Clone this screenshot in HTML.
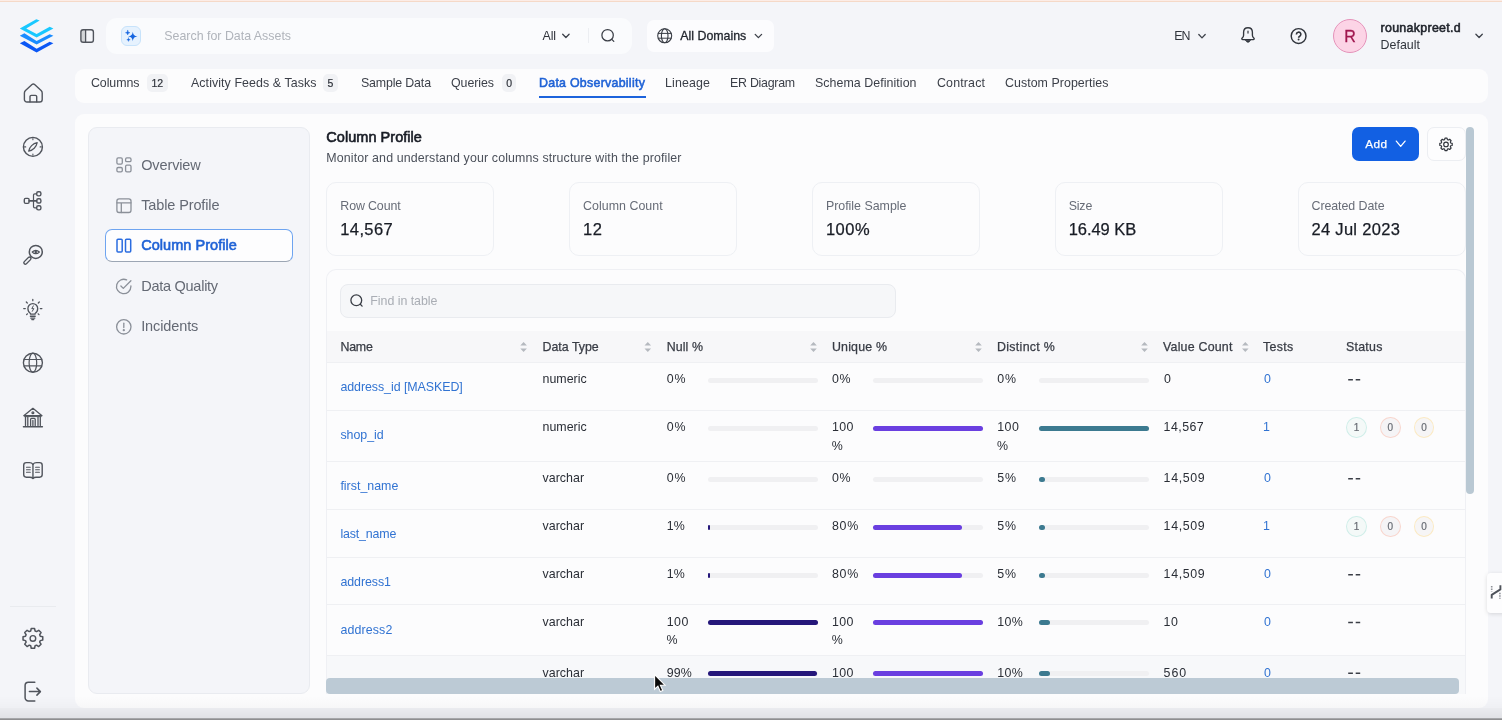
<!DOCTYPE html>
<html lang="en">
<head>
<meta charset="utf-8">
<title>Column Profile</title>
<style>
*{box-sizing:border-box;margin:0;padding:0}
html,body{width:1502px;height:720px;overflow:hidden}
body{background:#f4f5f9;font-family:"Liberation Sans",sans-serif;color:#292d36;position:relative;font-size:13px}
.abs{position:absolute}
.t{position:absolute;white-space:nowrap}
svg{position:absolute;overflow:visible}
#topline{left:0;top:0;width:1502px;height:2px;background:linear-gradient(#fcece6 0,#fcece6 50%,#f5d9c8 50%,#f5d9c8 100%)}
#search{left:106px;top:17.500px;width:525.500px;height:36px;background:#fafbfd;border-radius:11px}
#aibtn{left:121.300px;top:26px;width:19.700px;height:20px;border-radius:6px;background:#e6f2fe;border:1px solid #c7e3fb}
#sdiv{left:588px;top:28px;width:1px;height:15px;background:#eceef2}
#domains{left:647px;top:20px;width:127px;height:32px;background:#fcfcfe;border-radius:7px}
#avatar{left:1332.800px;top:18.600px;width:34.200px;height:34.200px;border-radius:50%;background:#fcd4e6;border:1px solid #e492b9}
#tabs{left:75px;top:69px;width:1413px;height:33.500px;background:#fcfcfd;border-radius:9px}
#tabul{left:539px;top:95.500px;width:106.500px;height:2px;background:#1c63dc}
.badge{position:absolute;top:74px;height:18px;border-radius:5px;background:#f1f2f5;color:#30343c;font-size:10.5px;line-height:18px;text-align:center;-webkit-text-stroke:.2px #30343c}
#main{left:75px;top:113.500px;width:1413px;height:594px;background:#fcfcfd;border-radius:9px}
#side{left:87.500px;top:127px;width:222.500px;height:567px;background:#f4f5f9;border:1px solid #e9ebf0;border-radius:9px}
#sel{left:105px;top:228.500px;width:187.500px;height:33px;background:#fdfdfe;border:1px solid #6ea4f0;border-bottom-color:#9ca6b4;border-radius:7px}
#navdiv{left:10px;top:606px;width:46px;height:1px;background:#e9ebef}
#addbtn{left:1352px;top:127px;width:67.200px;height:34px;background:#1260e3;border-radius:7px}
#setbtn{left:1426.500px;top:127px;width:39px;height:34px;background:#fdfdfe;border:1px solid #eceef2;border-radius:7px}
.card{position:absolute;top:182px;width:168px;height:73.500px;border:1px solid #eef0f4;border-radius:10px;background:#fcfcfd}
#tbl{left:326px;top:269px;width:1140px;height:430px;border:1px solid #eff0f4;border-bottom:none;border-radius:10px 10px 0 0}
#find{left:340px;top:283.500px;width:556px;height:34px;background:#f6f7f9;border:1px solid #e9ebef;border-radius:8px}
#thead{left:327px;top:331px;width:1138px;height:32px;background:#f7f7f9}
.row{position:absolute;left:327px;width:1138px;border-top:1px solid #eff0f3}
.bar{position:absolute;height:5px;border-radius:3px;background:#f0f0f2;width:110px}
.bar i{position:absolute;left:0;top:0;height:5px;border-radius:3px;display:block}
.n i{background:#25177a}.u i{background:#6a3fe0}.d i{background:#3c7a90}
.dash{position:absolute;width:4.8px;height:1.5px;background:#3a3e46}
.st{position:absolute;width:20.600px;height:21px;border-radius:50%;font-size:10px;line-height:20.300px;text-align:center;color:#686c74;-webkit-text-stroke:.2px #686c74}
.sg{border:1px solid #d0eee9;background:#f4f9f8}
.sr{border:1px solid #f8d6ce;background:#f5f4f6}
.sy{border:1px solid #fbeac4;background:#f6f5f6}
#vsb{left:1466px;top:127px;width:8px;height:367px;background:#b9c8d3;border-radius:5px}
#hsb{left:326px;top:678px;width:1133px;height:16px;background:#bccad5;border-radius:4px}
#mask{left:326px;top:694px;width:1142px;height:13px;background:#fcfcfd}
#rtab{left:1487px;top:572.5px;width:20px;height:40px;background:#fdfdfe;border-radius:4px;box-shadow:0 1px 4px rgba(0,0,0,.13)}
#botgrad{left:0;top:696px;width:1502px;height:24px;background:linear-gradient(to bottom,rgba(0,0,0,0) 0,rgba(0,0,0,.018) 11.5px,rgba(0,0,0,.035) 12px,rgba(0,0,0,.075) 22px,rgba(0,0,0,.42) 22.7px,rgba(0,0,0,.42) 24px)}
</style>
</head>
<body>
<div id="all" style="position:absolute;left:0;top:0;width:1502px;height:720px;will-change:transform">
<div class="abs" id="topline"></div>
<div class="abs" id="search"></div>
<div class="abs" id="aibtn"></div>
<div class="abs" id="sdiv"></div>
<div class="abs" id="domains"></div>
<div class="abs" id="avatar"></div>
<div class="abs" id="tabs"></div>
<div class="abs" id="tabul"></div>
<div class="badge" style="left:146.500px;width:21.500px">12</div>
<div class="badge" style="left:323px;width:15px">5</div>
<div class="badge" style="left:502.200px;width:14px">0</div>
<div class="abs" id="main"></div>
<div class="abs" id="side"></div>
<div class="abs" id="sel"></div>
<div class="abs" id="navdiv"></div>
<div class="abs" id="addbtn"></div>
<div class="abs" id="setbtn"></div>
<div class="card" style="left:326.3px"></div>
<div class="card" style="left:569.1px"></div>
<div class="card" style="left:811.9px"></div>
<div class="card" style="left:1054.7px"></div>
<div class="card" style="left:1297.5px"></div>
<div class="abs" id="tbl"></div>
<div class="abs" id="find"></div>
<div class="abs" id="thead"></div>
<div class="row" style="top:362px;height:48px"></div>
<div class="row" style="top:410px;height:51px"></div>
<div class="row" style="top:461px;height:48px"></div>
<div class="row" style="top:509px;height:48px"></div>
<div class="row" style="top:557px;height:47px"></div>
<div class="row" style="top:604px;height:51.4px"></div>
<div class="row" style="top:655.4px;height:50px;background:#f7f8fa"></div>
<div class="bar n" style="left:708px;top:377.5px"></div>
<div class="bar u" style="left:873px;top:377.5px"></div>
<div class="bar d" style="left:1039px;top:377.5px"></div>
<div class="bar n" style="left:708px;top:425.5px"></div>
<div class="bar u" style="left:873px;top:425.5px"><i style="width:110px"></i></div>
<div class="bar d" style="left:1039px;top:425.5px"><i style="width:110px"></i></div>
<div class="st sg" style="left:1346.2px;top:417.2px">1</div>
<div class="st sr" style="left:1380px;top:417.2px">0</div>
<div class="st sy" style="left:1413.8px;top:417.2px">0</div>
<div class="bar n" style="left:708px;top:476.5px"></div>
<div class="bar u" style="left:873px;top:476.5px"></div>
<div class="bar d" style="left:1039px;top:476.5px"><i style="width:6px"></i></div>
<div class="bar n" style="left:708px;top:524.5px"><i style="width:1.6px"></i></div>
<div class="bar u" style="left:873px;top:524.5px"><i style="width:89px"></i></div>
<div class="bar d" style="left:1039px;top:524.5px"><i style="width:6px"></i></div>
<div class="st sg" style="left:1346.2px;top:516.2px">1</div>
<div class="st sr" style="left:1380px;top:516.2px">0</div>
<div class="st sy" style="left:1413.8px;top:516.2px">0</div>
<div class="bar n" style="left:708px;top:572.5px"><i style="width:1.6px"></i></div>
<div class="bar u" style="left:873px;top:572.5px"><i style="width:89px"></i></div>
<div class="bar d" style="left:1039px;top:572.5px"><i style="width:6px"></i></div>
<div class="bar n" style="left:708px;top:620.1px"><i style="width:110px"></i></div>
<div class="bar u" style="left:873px;top:620.1px"><i style="width:110px"></i></div>
<div class="bar d" style="left:1039px;top:620.1px"><i style="width:11px"></i></div>
<div class="bar n" style="left:708px;top:670.9px"><i style="width:109px"></i></div>
<div class="bar u" style="left:873px;top:670.9px"><i style="width:110px"></i></div>
<div class="bar d" style="left:1039px;top:670.9px"><i style="width:11px"></i></div>
<div class="t" style="left:164.3px;top:27.70px;font-size:12.4px;line-height:16px;color:#b0b4bb;">Search for Data Assets</div>
<div class="t" style="left:542.5px;top:27.70px;font-size:12.4px;line-height:16px;color:#30343c;letter-spacing:-0.11px;">All</div>
<div class="t" style="left:680.3px;top:27.70px;font-size:12.4px;line-height:16px;color:#23272f;letter-spacing:-0.01px;-webkit-text-stroke:.3px currentColor;">All Domains</div>
<div class="t" style="left:1174.3px;top:27.90px;font-size:12.4px;line-height:16px;color:#30343c;letter-spacing:-1.01px;">EN</div>
<div class="t" style="left:1344.2px;top:26.66px;font-size:16px;line-height:20px;color:#a0174f;-webkit-text-stroke:.3px currentColor;">R</div>
<div class="t" style="left:1380.5px;top:19.80px;font-size:12.4px;line-height:16px;color:#1d2129;letter-spacing:0.31px;-webkit-text-stroke:.55px currentColor;">rounakpreet.d</div>
<div class="t" style="left:1380.5px;top:36.60px;font-size:12.4px;line-height:16px;color:#30343c;letter-spacing:0.04px;">Default</div>
<div class="t" style="left:91.0px;top:75.30px;font-size:12.4px;line-height:16px;color:#3b3f48;letter-spacing:-0.08px;">Columns</div>
<div class="t" style="left:191.0px;top:75.30px;font-size:12.4px;line-height:16px;color:#3b3f48;letter-spacing:0.08px;">Activity Feeds &amp; Tasks</div>
<div class="t" style="left:361.0px;top:75.30px;font-size:12.4px;line-height:16px;color:#3b3f48;letter-spacing:-0.16px;">Sample Data</div>
<div class="t" style="left:451.0px;top:75.30px;font-size:12.4px;line-height:16px;color:#3b3f48;letter-spacing:-0.06px;">Queries</div>
<div class="t" style="left:665.0px;top:75.30px;font-size:12.4px;line-height:16px;color:#3b3f48;letter-spacing:0.14px;">Lineage</div>
<div class="t" style="left:730.0px;top:75.30px;font-size:12.4px;line-height:16px;color:#3b3f48;letter-spacing:-0.26px;">ER Diagram</div>
<div class="t" style="left:815.0px;top:75.30px;font-size:12.4px;line-height:16px;color:#3b3f48;letter-spacing:0.06px;">Schema Definition</div>
<div class="t" style="left:937.0px;top:75.30px;font-size:12.4px;line-height:16px;color:#3b3f48;letter-spacing:0.16px;">Contract</div>
<div class="t" style="left:1005.0px;top:75.30px;font-size:12.4px;line-height:16px;color:#3b3f48;letter-spacing:0.05px;">Custom Properties</div>
<div class="t" style="left:539.0px;top:75.30px;font-size:12.4px;line-height:16px;color:#1f62d6;letter-spacing:0.27px;-webkit-text-stroke:.55px currentColor;">Data Observability</div>
<div class="t" style="left:141.2px;top:155.78px;font-size:14.5px;line-height:18px;color:#646974;letter-spacing:-0.12px;">Overview</div>
<div class="t" style="left:141.2px;top:196.08px;font-size:14.5px;line-height:18px;color:#646974;letter-spacing:-0.12px;">Table Profile</div>
<div class="t" style="left:141.2px;top:276.78px;font-size:14.5px;line-height:18px;color:#646974;letter-spacing:-0.26px;">Data Quality</div>
<div class="t" style="left:141.2px;top:317.38px;font-size:14.5px;line-height:18px;color:#646974;letter-spacing:-0.11px;">Incidents</div>
<div class="t" style="left:141.2px;top:236.28px;font-size:14.5px;line-height:18px;color:#1f62d6;letter-spacing:0.04px;-webkit-text-stroke:.6px currentColor;">Column Profile</div>
<div class="t" style="left:326.3px;top:128.28px;font-size:14.5px;line-height:18px;color:#171b24;letter-spacing:0.04px;-webkit-text-stroke:.6px currentColor;">Column Profile</div>
<div class="t" style="left:326.3px;top:150.20px;font-size:12.4px;line-height:16px;color:#4b505a;letter-spacing:0.13px;">Monitor and understand your columns structure with the profiler</div>
<div class="t" style="left:1365.3px;top:136.31px;font-size:11.8px;line-height:16px;color:#ffffff;letter-spacing:0.40px;-webkit-text-stroke:.25px currentColor;">Add</div>
<div class="t" style="left:340.3px;top:197.80px;font-size:12.4px;line-height:16px;color:#676c77;letter-spacing:-0.12px;">Row Count</div>
<div class="t" style="left:340.3px;top:219.38px;font-size:16.5px;line-height:20px;color:#181c25;letter-spacing:0.37px;-webkit-text-stroke:.25px currentColor;">14,567</div>
<div class="t" style="left:583.1px;top:197.80px;font-size:12.4px;line-height:16px;color:#676c77;letter-spacing:0.03px;">Column Count</div>
<div class="t" style="left:583.1px;top:219.38px;font-size:16.5px;line-height:20px;color:#181c25;letter-spacing:0.43px;-webkit-text-stroke:.25px currentColor;">12</div>
<div class="t" style="left:825.9px;top:197.80px;font-size:12.4px;line-height:16px;color:#676c77;">Profile Sample</div>
<div class="t" style="left:825.9px;top:219.38px;font-size:16.5px;line-height:20px;color:#181c25;letter-spacing:0.51px;-webkit-text-stroke:.25px currentColor;">100%</div>
<div class="t" style="left:1068.7px;top:197.80px;font-size:12.4px;line-height:16px;color:#676c77;letter-spacing:-0.17px;">Size</div>
<div class="t" style="left:1068.7px;top:219.38px;font-size:16.5px;line-height:20px;color:#181c25;letter-spacing:-0.05px;-webkit-text-stroke:.25px currentColor;">16.49 KB</div>
<div class="t" style="left:1311.5px;top:197.80px;font-size:12.4px;line-height:16px;color:#676c77;letter-spacing:-0.06px;">Created Date</div>
<div class="t" style="left:1311.5px;top:219.38px;font-size:16.5px;line-height:20px;color:#181c25;letter-spacing:0.30px;-webkit-text-stroke:.25px currentColor;">24 Jul 2023</div>
<div class="t" style="left:370.3px;top:293.20px;font-size:12.4px;line-height:16px;color:#a9adb4;letter-spacing:-0.03px;">Find in table</div>
<div class="t" style="left:340.4px;top:339.00px;font-size:12.4px;line-height:16px;color:#383c45;letter-spacing:-0.19px;-webkit-text-stroke:.25px currentColor;">Name</div>
<div class="t" style="left:542.5px;top:339.00px;font-size:12.4px;line-height:16px;color:#383c45;-webkit-text-stroke:.25px currentColor;">Data Type</div>
<div class="t" style="left:666.8px;top:339.00px;font-size:12.4px;line-height:16px;color:#383c45;letter-spacing:0.07px;-webkit-text-stroke:.25px currentColor;">Null %</div>
<div class="t" style="left:832.0px;top:339.00px;font-size:12.4px;line-height:16px;color:#383c45;letter-spacing:0.17px;-webkit-text-stroke:.25px currentColor;">Unique %</div>
<div class="t" style="left:997.0px;top:339.00px;font-size:12.4px;line-height:16px;color:#383c45;letter-spacing:0.31px;-webkit-text-stroke:.25px currentColor;">Distinct %</div>
<div class="t" style="left:1163.0px;top:339.00px;font-size:12.4px;line-height:16px;color:#383c45;letter-spacing:0.21px;-webkit-text-stroke:.25px currentColor;">Value Count</div>
<div class="t" style="left:1263.0px;top:339.00px;font-size:12.4px;line-height:16px;color:#383c45;letter-spacing:0.35px;-webkit-text-stroke:.25px currentColor;">Tests</div>
<div class="t" style="left:1346.0px;top:339.00px;font-size:12.4px;line-height:16px;color:#383c45;letter-spacing:0.25px;-webkit-text-stroke:.25px currentColor;">Status</div>
<div class="t" style="left:340.4px;top:378.90px;font-size:12.4px;line-height:16px;color:#3173d2;letter-spacing:-0.05px;">address_id [MASKED]</div>
<div class="t" style="left:542.5px;top:371.10px;font-size:12.4px;line-height:16px;color:#2a2e36;letter-spacing:0.03px;">numeric</div>
<div class="t" style="left:666.8px;top:371.10px;font-size:12.4px;line-height:16px;color:#2a2e36;letter-spacing:0.72px;">0%</div>
<div class="t" style="left:832.0px;top:371.10px;font-size:12.4px;line-height:16px;color:#2a2e36;letter-spacing:0.72px;">0%</div>
<div class="t" style="left:997.3px;top:371.10px;font-size:12.4px;line-height:16px;color:#2a2e36;letter-spacing:0.72px;">0%</div>
<div class="t" style="left:1163.9px;top:371.10px;font-size:12.4px;line-height:16px;color:#2a2e36;">0</div>
<div class="t" style="left:1263.9px;top:371.10px;font-size:12.4px;line-height:16px;color:#3173d2;">0</div>
<div class="t" style="left:340.4px;top:426.90px;font-size:12.4px;line-height:16px;color:#3173d2;letter-spacing:-0.03px;">shop_id</div>
<div class="t" style="left:542.5px;top:419.10px;font-size:12.4px;line-height:16px;color:#2a2e36;letter-spacing:0.03px;">numeric</div>
<div class="t" style="left:666.8px;top:419.10px;font-size:12.4px;line-height:16px;color:#2a2e36;letter-spacing:0.72px;">0%</div>
<div class="t" style="left:832.0px;top:419.10px;font-size:12.4px;line-height:16px;color:#2a2e36;letter-spacing:0.41px;">100</div>
<div class="t" style="left:831.7px;top:437.80px;font-size:12.4px;line-height:16px;color:#2a2e36;">%</div>
<div class="t" style="left:997.3px;top:419.10px;font-size:12.4px;line-height:16px;color:#2a2e36;letter-spacing:0.41px;">100</div>
<div class="t" style="left:997.0px;top:437.80px;font-size:12.4px;line-height:16px;color:#2a2e36;">%</div>
<div class="t" style="left:1163.6px;top:419.10px;font-size:12.4px;line-height:16px;color:#2a2e36;letter-spacing:0.44px;">14,567</div>
<div class="t" style="left:1263.0px;top:419.10px;font-size:12.4px;line-height:16px;color:#3173d2;">1</div>
<div class="t" style="left:340.4px;top:477.90px;font-size:12.4px;line-height:16px;color:#3173d2;letter-spacing:0.01px;">first_name</div>
<div class="t" style="left:542.5px;top:470.10px;font-size:12.4px;line-height:16px;color:#2a2e36;letter-spacing:0.04px;">varchar</div>
<div class="t" style="left:666.8px;top:470.10px;font-size:12.4px;line-height:16px;color:#2a2e36;letter-spacing:0.72px;">0%</div>
<div class="t" style="left:832.0px;top:470.10px;font-size:12.4px;line-height:16px;color:#2a2e36;letter-spacing:0.72px;">0%</div>
<div class="t" style="left:997.3px;top:470.10px;font-size:12.4px;line-height:16px;color:#2a2e36;letter-spacing:0.72px;">5%</div>
<div class="t" style="left:1163.6px;top:470.10px;font-size:12.4px;line-height:16px;color:#2a2e36;letter-spacing:0.65px;">14,509</div>
<div class="t" style="left:1263.9px;top:470.10px;font-size:12.4px;line-height:16px;color:#3173d2;">0</div>
<div class="t" style="left:340.4px;top:525.90px;font-size:12.4px;line-height:16px;color:#3173d2;letter-spacing:-0.14px;">last_name</div>
<div class="t" style="left:542.5px;top:518.10px;font-size:12.4px;line-height:16px;color:#2a2e36;letter-spacing:0.04px;">varchar</div>
<div class="t" style="left:666.8px;top:518.10px;font-size:12.4px;line-height:16px;color:#2a2e36;letter-spacing:0.05px;">1%</div>
<div class="t" style="left:832.0px;top:518.10px;font-size:12.4px;line-height:16px;color:#2a2e36;letter-spacing:0.68px;">80%</div>
<div class="t" style="left:997.3px;top:518.10px;font-size:12.4px;line-height:16px;color:#2a2e36;letter-spacing:0.72px;">5%</div>
<div class="t" style="left:1163.6px;top:518.10px;font-size:12.4px;line-height:16px;color:#2a2e36;letter-spacing:0.65px;">14,509</div>
<div class="t" style="left:1263.0px;top:518.10px;font-size:12.4px;line-height:16px;color:#3173d2;">1</div>
<div class="t" style="left:340.4px;top:573.90px;font-size:12.4px;line-height:16px;color:#3173d2;letter-spacing:-0.06px;">address1</div>
<div class="t" style="left:542.5px;top:566.10px;font-size:12.4px;line-height:16px;color:#2a2e36;letter-spacing:0.04px;">varchar</div>
<div class="t" style="left:666.8px;top:566.10px;font-size:12.4px;line-height:16px;color:#2a2e36;letter-spacing:0.05px;">1%</div>
<div class="t" style="left:832.0px;top:566.10px;font-size:12.4px;line-height:16px;color:#2a2e36;letter-spacing:0.68px;">80%</div>
<div class="t" style="left:997.3px;top:566.10px;font-size:12.4px;line-height:16px;color:#2a2e36;letter-spacing:0.72px;">5%</div>
<div class="t" style="left:1163.6px;top:566.10px;font-size:12.4px;line-height:16px;color:#2a2e36;letter-spacing:0.65px;">14,509</div>
<div class="t" style="left:1263.9px;top:566.10px;font-size:12.4px;line-height:16px;color:#3173d2;">0</div>
<div class="t" style="left:340.4px;top:621.50px;font-size:12.4px;line-height:16px;color:#3173d2;letter-spacing:0.14px;">address2</div>
<div class="t" style="left:542.5px;top:613.70px;font-size:12.4px;line-height:16px;color:#2a2e36;letter-spacing:0.04px;">varchar</div>
<div class="t" style="left:666.8px;top:613.70px;font-size:12.4px;line-height:16px;color:#2a2e36;letter-spacing:0.41px;">100</div>
<div class="t" style="left:666.5px;top:632.40px;font-size:12.4px;line-height:16px;color:#2a2e36;">%</div>
<div class="t" style="left:832.0px;top:613.70px;font-size:12.4px;line-height:16px;color:#2a2e36;letter-spacing:0.41px;">100</div>
<div class="t" style="left:831.7px;top:632.40px;font-size:12.4px;line-height:16px;color:#2a2e36;">%</div>
<div class="t" style="left:997.3px;top:613.70px;font-size:12.4px;line-height:16px;color:#2a2e36;letter-spacing:0.28px;">10%</div>
<div class="t" style="left:1163.6px;top:613.70px;font-size:12.4px;line-height:16px;color:#2a2e36;letter-spacing:0.47px;">10</div>
<div class="t" style="left:1263.9px;top:613.70px;font-size:12.4px;line-height:16px;color:#3173d2;">0</div>
<div class="t" style="left:542.5px;top:664.50px;font-size:12.4px;line-height:16px;color:#2a2e36;letter-spacing:0.04px;">varchar</div>
<div class="t" style="left:666.8px;top:664.50px;font-size:12.4px;line-height:16px;color:#2a2e36;letter-spacing:0.07px;">99%</div>
<div class="t" style="left:832.0px;top:664.50px;font-size:12.4px;line-height:16px;color:#2a2e36;letter-spacing:0.41px;">100</div>
<div class="t" style="left:831.7px;top:683.20px;font-size:12.4px;line-height:16px;color:#2a2e36;">%</div>
<div class="t" style="left:997.3px;top:664.50px;font-size:12.4px;line-height:16px;color:#2a2e36;letter-spacing:0.28px;">10%</div>
<div class="t" style="left:1163.6px;top:664.50px;font-size:12.4px;line-height:16px;color:#2a2e36;letter-spacing:0.93px;">560</div>
<div class="t" style="left:1263.9px;top:664.50px;font-size:12.4px;line-height:16px;color:#3173d2;">0</div>
<svg width="1502" height="720" viewBox="0 0 1502 720" style="left:0;top:0" fill="none" stroke-linecap="round" stroke-linejoin="round">
<polygon points="19.8,28.4 36.3,19.2 39.7,20.5 26.2,28.4 36.6,33.9 49.7,26.8 53.4,28.4 36.6,37.6" fill="#19c8ff"/>
<polygon points="19.8,35.7 24.4,33.2 36.6,40.9 49.7,34.2 53.4,35.7 36.6,44.6" fill="#1a8cff"/>
<polygon points="19.8,43.3 24.4,40.900 36.6,48.700 49.7,41.800 53.4,43.300 36.6,52.500" fill="#0b57f5"/>
<rect x="81.2" y="30.1" width="4.4" height="11.8" fill="#d3d5d8"/>
<rect x="80.9" y="29.8" width="12.5" height="12.4" rx="2.2" stroke="#50545c" stroke-width="1.4"/>
<path d="M85.6 29.8V42.2" stroke="#50545c" stroke-width="1.3"/>
<path d="M132.8 31.8C133.3 35 134.3 36 137.5 36.5C134.3 37 133.3 38 132.8 41.2C132.3 38 131.3 37 128.1 36.5C131.3 36 132.3 35 132.8 31.8Z" fill="#1565e0"/>
<path d="M127.7 30.500C128 32 128.400 32.400 129.900 32.700C128.400 33 128 33.400 127.700 34.900C127.400 33.400 127 33 125.500 32.700C127 32.400 127.400 32 127.700 30.500Z" fill="#1565e0" stroke="#1565e0" stroke-width=".5"/>
<path d="M128.500 38C128.700 39.100 129.100 39.500 130.200 39.700C129.100 39.900 128.700 40.300 128.500 41.400C128.300 40.300 127.900 39.900 126.800 39.700C127.900 39.500 128.300 39.100 128.500 38Z" fill="#1565e0" stroke="#1565e0" stroke-width=".4"/>
<path d="M562.6999999999999 34.25L565.9 37.55L569.1 34.25" stroke="#3d414a" stroke-width="1.3"/>
<path d="M755.1999999999999 34.35L758.4 37.65L761.6 34.35" stroke="#3d414a" stroke-width="1.3"/>
<path d="M1198.8 34.550000000000004L1202 37.85L1205.2 34.550000000000004" stroke="#3d414a" stroke-width="1.3"/>
<path d="M1475.8999999999999 34.25L1479.1 37.55L1482.3 34.25" stroke="#3d414a" stroke-width="1.3"/>
<circle cx="607.6" cy="35.2" r="5.700" stroke="#3a3e46" stroke-width="1.250"/><path d="M611.8 39.4L613.8 41.4" stroke="#3a3e46" stroke-width="1.250"/>
<g stroke="#3a3e46" stroke-width="1.1"><circle cx="664.7" cy="35.8" r="7"/><ellipse cx="664.7" cy="35.8" rx="3.300" ry="7"/><path d="M658.300 33.400H671.100M658.300 38.200H671.100" stroke-width="1"/></g>
<g stroke="#33373f" stroke-width="1.350"><path d="M1248 27.700C1245.200 27.700 1243.600 29.800 1243.600 32.300V35.200C1243.600 36.500 1243 37.300 1242.200 38C1241.400 38.700 1241.800 39.600 1242.800 39.600H1253.200C1254.200 39.600 1254.600 38.700 1253.800 38C1253 37.300 1252.400 36.500 1252.400 35.200V32.300C1252.400 29.800 1250.800 27.700 1248 27.700Z"/><path d="M1248 31.100V33.100" stroke-width="1.200"/></g>
<path d="M1245.400 40.200H1250.600Q1248 44.600 1245.400 40.200Z" fill="#33373f" stroke="#33373f" stroke-width=".6"/>
<circle cx="1298.600" cy="36" r="7.400" stroke="#2f333b" stroke-width="1.450"/>
<path d="M1296.400 34.500A2.250 2.250 0 1 1 1299.800 36.300C1299 36.800 1298.600 37.100 1298.600 37.800" stroke="#2f333b" stroke-width="1.600" stroke-linecap="butt"/><circle cx="1298.600" cy="39.500" r="0.950" fill="#2f333b"/>
<g stroke="#50545c" stroke-width="1.400"><path d="M24.400 93Q24.400 91.500 25.500 90.500L32 84.500Q33.300 83.300 34.600 84.500L41.100 90.500Q42.200 91.500 42.200 93V99.400A2.600 2.600 0 0 1 39.600 102H27A2.600 2.600 0 0 1 24.400 99.400Z"/><path d="M30 101.800V96.700A1.300 1.300 0 0 1 31.300 95.400H35.400A1.300 1.300 0 0 1 36.700 96.700V101.800"/></g>
<g stroke="#50545c" stroke-width="1.4"><circle cx="32.9" cy="146.9" r="9.5"/><path d="M28.7 151.1C29.300 147.200 33 143.400 37.2 142.700C36.500 146.800 32.800 150.500 28.7 151.100Z" stroke-width="1.2"/><path d="M32.9 138.500V139.700M32.9 154.100V155.300M24.500 146.900H25.700M40.100 146.900H41.300" stroke-width="1.1"/></g>
<g stroke="#50545c" stroke-width="1.400"><rect x="24.300" y="198.400" width="4.800" height="5" rx="1.300"/><rect x="36.700" y="191.700" width="4.200" height="4.200" rx="1.600"/><rect x="36.700" y="198.800" width="4.200" height="4.200" rx="1.600"/><rect x="36.700" y="205.700" width="4.200" height="4.200" rx="1.600"/><path d="M29.100 200.900H36.700" stroke-width="1.700"/><path d="M36.700 193.800H34.800Q33.500 193.800 33.500 195.100V206.500Q33.500 207.800 34.800 207.800H36.700" stroke-width="1.200"/></g>
<g stroke="#50545c"><circle cx="35.800" cy="251.900" r="6.500" stroke-width="1.500"/><path d="M29.500 258.600L25.300 262.800" stroke-width="4.300"/><path d="M29.400 258.700L25.400 262.700" stroke="#f4f5f9" stroke-width="1.700"/><path d="M31.100 256.700L30.100 257.700" stroke-width="1.500" stroke-linecap="butt"/><path d="M32.200 252Q35.800 248.600 39.400 252Q35.800 255.400 32.200 252Z" stroke-width="1.100"/><circle cx="35.800" cy="252" r="1.200" fill="#50545c" stroke="none"/></g>
<g stroke="#50545c" stroke-width="1.300"><path d="M30.500 314.200V313.500C28.800 312.400 27.900 310.600 27.900 308.500A4.900 4.900 0 0 1 37.700 308.500C37.700 310.600 36.800 312.400 35.100 313.500V314.200Z"/><path d="M30.400 316.200H35.200M30.800 318.100H34.800M31.800 319.600H33.800" stroke-width="1.350"/><path d="M32.800 299.300V300.700M26.300 302L27.300 303M39.300 302L38.300 303M23.700 308.500H25.300M40.300 308.500H41.900M26.600 314.600L27.500 313.800M39 314.600L38.100 313.800" stroke-width="1.250"/><path d="M33.300 305.900L31.800 308.600H33.800L32.300 311.300" stroke-width="1"/></g>
<g stroke="#50545c" stroke-width="1.350"><circle cx="32.900" cy="362.700" r="9.500"/><ellipse cx="32.900" cy="362.700" rx="3.800" ry="9.500" stroke-width="1.200"/><path d="M24.200 359.500H41.600M24.200 365.900H41.600" stroke-width="1.200"/></g>
<g stroke="#50545c" stroke-width="1.300"><path d="M23.800 415.700L32.900 408.300L42 415.700Z"/><circle cx="32.900" cy="412.700" r="0.900"/><path d="M25.500 417V425.400M27.800 417V425.400M38 417V425.400M40.300 417V425.400M30.600 425.400V419.300Q30.600 418.300 31.600 418.300H34.200Q35.200 418.300 35.200 419.300V425.400M32.900 420.500V425.400" /><path d="M23.400 426.800H42.400" stroke-width="1.400"/><path d="M24.600 416.600H41.200" stroke-width="1"/></g>
<g stroke="#50545c" stroke-width="1.400"><path d="M32.950 464.500V478.300"/><path d="M32.950 464.300C32.200 463.200 31 462.600 29.400 462.600H26.300A2.600 2.600 0 0 0 23.700 465.200V474.600A2.600 2.600 0 0 0 26.300 477.200H29.800C31.200 477.200 32.200 477.600 32.950 478.400C33.700 477.600 34.700 477.200 36.100 477.200H39.600A2.600 2.600 0 0 0 42.200 474.600V465.200A2.600 2.600 0 0 0 39.600 462.600H36.500C34.900 462.600 33.700 463.200 32.950 464.300Z"/><path d="M26.500 467.300H30.300M26.500 469.800H30.300M26.500 472.300H30.300M35.600 467.300H39.400M35.600 469.800H39.400M35.600 472.300H39.400" stroke-width="1.100"/></g>
<path d="M31.25 628.54 L34.55 628.54 L35.11 631.02 L36.56 631.62 L38.71 630.26 L41.04 632.59 L39.68 634.74 L40.28 636.19 L42.76 636.75 L42.76 640.05 L40.28 640.61 L39.68 642.06 L41.04 644.21 L38.71 646.54 L36.56 645.18 L35.11 645.78 L34.55 648.26 L31.25 648.26 L30.69 645.78 L29.24 645.18 L27.09 646.54 L24.76 644.21 L26.12 642.06 L25.52 640.61 L23.04 640.05 L23.04 636.75 L25.52 636.19 L26.12 634.74 L24.76 632.59 L27.09 630.26 L29.24 631.62 L30.69 631.02Z" stroke="#50545c" stroke-width="1.500"/><circle cx="32.900" cy="638.400" r="2.800" stroke="#50545c" stroke-width="1.400"/>
<g stroke="#50545c" stroke-width="1.500"><path d="M34.800 682.300H28.400A3.300 3.300 0 0 0 25.100 685.600V697.700A3.300 3.300 0 0 0 28.400 701H34.800"/><path d="M29.400 691.600H40.200M36.900 688.100L40.400 691.600L36.900 695.100"/></g>
<g stroke="#8b9099" stroke-width="1.300"><rect x="116.900" y="157.900" width="5.400" height="6.200" rx="1.300"/><rect x="125.600" y="157.900" width="5.400" height="3.800" rx="1.300"/><rect x="116.900" y="167.500" width="5.400" height="4.300" rx="1.300"/><rect x="125.600" y="165.100" width="5.400" height="6.700" rx="1.300"/></g>
<g stroke="#8b9099" stroke-width="1.300"><rect x="116.900" y="198.800" width="14.100" height="13.700" rx="2.200"/><path d="M116.900 202.800H131M121.300 202.800V212.500"/></g>
<g stroke="#2a6ce0" stroke-width="1.500"><rect x="117" y="239.200" width="5.200" height="12.800" rx="1"/><rect x="125.500" y="239.200" width="5.200" height="12.800" rx="1"/></g>
<g stroke="#8b9099" stroke-width="1.300"><path d="M130.900 285.800V286.500A7.200 7.200 0 1 1 126.600 279.900"/><path d="M120.900 286L123.300 288.400L130.900 280.800"/></g>
<g stroke="#8b9099" stroke-width="1.300"><circle cx="123.800" cy="326.800" r="7.200"/><path d="M123.800 323.200V327.600"/><circle cx="123.800" cy="330.200" r="0.500" fill="#8b9099"/></g>
<path d="M1396.3 141.1L1400.7 146.29999999999998L1405.1000000000001 141.1" stroke="#ffffff" stroke-width="1.3"/>
<path d="M1444.96 138.19 L1447.04 138.19 L1447.40 139.71 L1448.33 140.09 L1449.66 139.27 L1451.13 140.74 L1450.31 142.07 L1450.69 143.00 L1452.21 143.36 L1452.21 145.44 L1450.69 145.80 L1450.31 146.73 L1451.13 148.06 L1449.66 149.53 L1448.33 148.71 L1447.40 149.09 L1447.04 150.61 L1444.96 150.61 L1444.60 149.09 L1443.67 148.71 L1442.34 149.53 L1440.87 148.06 L1441.69 146.73 L1441.31 145.80 L1439.79 145.44 L1439.79 143.36 L1441.31 143.00 L1441.69 142.07 L1440.87 140.74 L1442.34 139.27 L1443.67 140.09 L1444.60 139.71Z" stroke="#2f333b" stroke-width="1.150"/><circle cx="1446" cy="144.400" r="2.300" stroke="#2f333b" stroke-width="1.150"/>
<circle cx="356.300" cy="300.300" r="5.400" stroke="#3a3e46" stroke-width="1.300"/><path d="M360.300 304.300L362.100 306.100" stroke="#3a3e46" stroke-width="1.300"/>
<path d="M520.3000000000001 345.500L523.6 342L526.9 345.500ZM520.3000000000001 348.400L523.6 351.900L526.9 348.400Z" fill="#b5b9bf" stroke="none"/>
<path d="M644.5 345.500L647.8 342L651.0999999999999 345.500ZM644.5 348.400L647.8 351.900L651.0999999999999 348.400Z" fill="#b5b9bf" stroke="none"/>
<path d="M810.2 345.500L813.5 342L816.8 345.500ZM810.2 348.400L813.5 351.900L816.8 348.400Z" fill="#b5b9bf" stroke="none"/>
<path d="M975.2 345.500L978.5 342L981.8 345.500ZM975.2 348.400L978.5 351.900L981.8 348.400Z" fill="#b5b9bf" stroke="none"/>
<path d="M1141.2 345.500L1144.5 342L1147.8 345.500ZM1141.2 348.400L1144.5 351.900L1147.8 348.400Z" fill="#b5b9bf" stroke="none"/>
<path d="M1242.0 345.500L1245.3 342L1248.6 345.500ZM1242.0 348.400L1245.3 351.900L1248.6 348.400Z" fill="#b5b9bf" stroke="none"/>
</svg><svg width="1502" height="720" viewBox="0 0 1502 720" style="left:0;top:0"><path d="M1348.2 379.8H1352.900M1355.700 379.8H1360.200M1348.2 478.8H1352.900M1355.700 478.8H1360.200M1348.2 574.8H1352.900M1355.700 574.8H1360.200M1348.2 622.4H1352.900M1355.700 622.4H1360.200M1348.2 673.2H1352.900M1355.700 673.2H1360.200" stroke="#3a3e46" stroke-width="1.5" fill="none"/></svg>
<div class="abs" id="mask"></div>
<div class="abs" id="vsb"></div>
<div class="abs" id="hsb"></div>
<div class="abs" id="rtab"></div>
<div class="abs" id="botgrad"></div>
<svg width="1502" height="720" viewBox="0 0 1502 720" style="left:0;top:0" fill="none" stroke-linecap="round" stroke-linejoin="round">
<path d="M1491.700 598.500V594.900L1500.400 589.400V585.300" stroke="#4f535b" stroke-width="1.900" stroke-linecap="butt"/>
<path d="M1491.700 586V591.400M1499.900 592.700V598.700" stroke="#8e9197" stroke-width="1.600" stroke-dasharray="1.500 1" stroke-linecap="butt"/>
<path transform="translate(654.6 674.6) scale(1.0)" d="M0 0V14.6L3.300 11.500L5.700 17L8.200 15.900L5.800 10.600H10.400Z" fill="#0a0a0a" stroke="#ffffff" stroke-width="1.100" stroke-linejoin="miter"/>
</svg>
</div>
</body>
</html>
